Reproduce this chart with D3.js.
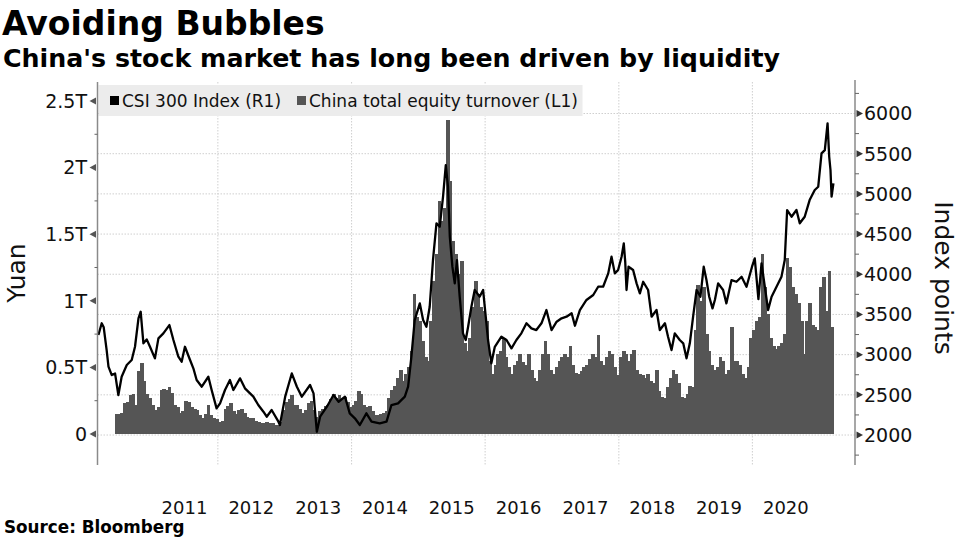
<!DOCTYPE html>
<html>
<head>
<meta charset="utf-8">
<script src="https://cdn.jsdelivr.net/npm/d3@7/dist/d3.min.js"></script>
<style>
  html, body { margin: 0; padding: 0; background: #fff; }
  svg { display: block; font-family: "DejaVu Sans", sans-serif; }
</style>
</head>
<body>
<svg id="chart" width="960" height="540"></svg>
<script>
// ---------------- DATA ----------------
const title = "Avoiding Bubbles";
const subtitle = "China's stock market has long been driven by liquidity";
const source = "Source: Bloomberg";
const legendLabels = ["CSI 300 Index (R1)", "China total equity turnover (L1)"];
const leftAxisTitle = "Yuan";
const rightAxisTitle = "Index points";
const yearLabels = [2011, 2012, 2013, 2014, 2015, 2016, 2017, 2018, 2019, 2020];
const gridYears = [2012, 2014, 2016, 2018, 2020];
const leftTicks = [0, 0.5, 1, 1.5, 2, 2.5];
const leftTickLabels = ["0", "0.5T", "1T", "1.5T", "2T", "2.5T"];
const rightTicks = [2000, 2500, 3000, 3500, 4000, 4500, 5000, 5500, 6000];

// CSI 300 index (right axis)
const csiDates = [
"2010-03-19","2010-04-06","2010-04-17","2010-05-03","2010-05-13","2010-05-31","2010-06-18","2010-07-06","2010-07-24","2010-08-21",
"2010-09-17","2010-10-05","2010-10-24","2010-11-05","2010-11-20","2010-12-08","2010-12-26","2011-01-22","2011-02-10","2011-03-09",
"2011-04-11","2011-05-03","2011-05-30","2011-06-17","2011-07-05","2011-08-02","2011-08-20","2011-09-07","2011-10-05","2011-11-10",
"2011-11-28","2011-12-25","2012-01-13","2012-02-09","2012-03-07","2012-03-26","2012-05-01","2012-05-28","2012-07-13","2012-08-09",
"2012-09-06","2012-09-24","2012-10-21","2012-11-27","2012-12-05","2013-01-03","2013-02-08","2013-03-08","2013-04-04","2013-05-19",
"2013-06-07","2013-06-25","2013-07-13","2013-08-19","2013-09-24","2013-10-22","2013-11-26","2013-12-22","2014-01-19","2014-02-15",
"2014-03-23","2014-04-20","2014-06-04","2014-07-11","2014-08-07","2014-09-12","2014-10-19","2014-11-06","2014-11-24","2014-12-12",
"2015-01-09","2015-01-27","2015-02-14","2015-03-04","2015-03-22","2015-04-10","2015-04-28","2015-05-16","2015-05-31","2015-06-12",
"2015-06-22","2015-07-06","2015-07-19","2015-07-31","2015-08-15","2015-09-02","2015-09-17","2015-09-30","2015-10-18","2015-11-05",
"2015-12-02","2015-12-21","2016-01-17","2016-02-04","2016-02-23","2016-03-30","2016-04-27","2016-05-24","2016-06-20","2016-07-17",
"2016-08-14","2016-09-10","2016-10-07","2016-11-04","2016-12-01","2016-12-29","2017-01-26","2017-02-22","2017-03-21","2017-04-18",
"2017-05-06","2017-06-02","2017-07-08","2017-08-14","2017-09-10","2017-10-07","2017-11-04","2017-11-22","2017-12-10","2017-12-28",
"2018-01-16","2018-01-28","2018-02-05","2018-02-12","2018-02-23","2018-03-20","2018-04-08","2018-04-26","2018-05-14","2018-06-10",
"2018-06-29","2018-07-26","2018-08-13","2018-09-10","2018-09-27","2018-10-16","2018-11-03","2018-11-30","2018-12-19","2019-01-06",
"2019-01-24","2019-02-11","2019-03-02","2019-03-23","2019-04-10","2019-04-25","2019-05-10","2019-05-28","2019-06-10","2019-06-28",
"2019-07-25","2019-08-12","2019-09-09","2019-10-06","2019-11-03","2019-11-30","2019-12-30","2020-01-14","2020-02-03","2020-02-20",
"2020-03-09","2020-03-27","2020-04-15","2020-05-12","2020-06-08","2020-06-26","2020-07-09","2020-08-02","2020-08-29","2020-09-16",
"2020-10-13","2020-11-09","2020-12-07","2020-12-26","2021-01-13","2021-01-31","2021-02-15","2021-02-24","2021-03-03","2021-03-09",
"2021-03-19"];
const csiValues = [
3244,3390,3340,3057,2850,2746,2766,2498,2725,2871,
2933,3098,3452,3534,3141,3190,3098,2954,3203,3265,
3368,3182,2974,2912,3098,2933,2830,2684,2601,2725,
2560,2332,2394,2560,2684,2560,2705,2581,2477,2373,
2290,2228,2311,2166,2124,2477,2766,2601,2477,2622,
2518,2041,2228,2352,2498,2414,2477,2270,2208,2124,
2270,2166,2145,2166,2373,2394,2477,2601,2974,3430,
3638,3430,3347,3596,4177,4634,4592,4965,5359,5089,
4467,4094,3887,4177,3721,3265,3182,3347,3596,3804,
3721,3804,3182,2892,3098,3223,3182,3078,3182,3265,
3390,3327,3306,3390,3555,3306,3410,3452,3472,3514,
3360,3555,3680,3742,3845,3845,4011,4218,4011,4053,
4218,4385,4150,3804,4094,4053,3887,3763,3907,3804,
3472,3555,3306,3390,3223,3057,3265,3182,3141,2954,
3141,3472,3804,3721,4094,3928,3721,3576,3680,3887,
3804,3638,3928,3907,3969,3845,4094,4198,3690,4136,
3845,3555,3721,3845,3969,4177,4799,4716,4799,4634,
4716,4923,5048,5089,5504,5545,5878,5462,5297,4965,
5131];

// China total equity turnover (left axis, trillion yuan), half-monthly periods
const turnoverStart = "2010-06-16";
const turnover2010 = [0.15,0.15,0.16,0.23,0.24,0.29,0.30,0.22,0.47,0.53,0.40,0.30,0.27];
const turnover2011 = [0.22,0.18,0.20,0.33,0.34,0.33,0.35,0.31,0.22,0.20,0.16,0.17,0.25,0.24,0.20,0.19,0.18,0.14,0.12,0.15,0.22,0.14,0.12,0.11];
const turnover2012 = [0.09,0.10,0.19,0.21,0.23,0.17,0.15,0.18,0.19,0.16,0.13,0.12,0.12,0.10,0.09,0.08,0.08,0.09,0.08,0.08,0.07,0.07,0.09,0.18];
const turnover2013 = [0.24,0.26,0.29,0.22,0.22,0.19,0.16,0.18,0.23,0.25,0.18,0.13,0.17,0.19,0.21,0.22,0.26,0.30,0.27,0.29,0.26,0.28,0.24,0.20];
const turnover2014 = [0.22,0.25,0.32,0.30,0.22,0.20,0.21,0.17,0.14,0.14,0.15,0.16,0.17,0.27,0.33,0.36,0.42,0.48,0.40,0.45,0.50,0.62,1.05,0.88];
const turnover2015 = [0.85,0.70,0.58,0.55,0.85,1.15,1.35,1.75,1.60,1.70,2.36,1.90,1.45,1.35,1.20,1.30,0.68,0.62,0.72,0.95,1.15,1.05,0.95,0.92];
const turnover2016 = [0.85,0.55,0.45,0.52,0.60,0.62,0.72,0.58,0.50,0.45,0.52,0.55,0.60,0.54,0.52,0.60,0.48,0.42,0.40,0.48,0.60,0.70,0.60,0.48];
const turnover2017 = [0.45,0.50,0.55,0.58,0.60,0.58,0.66,0.52,0.46,0.45,0.47,0.50,0.52,0.56,0.60,0.58,0.74,0.55,0.52,0.58,0.62,0.60,0.50,0.44];
const turnover2018 = [0.58,0.62,0.60,0.55,0.60,0.63,0.48,0.45,0.44,0.42,0.45,0.40,0.38,0.48,0.32,0.28,0.27,0.35,0.42,0.48,0.45,0.38,0.28,0.27];
const turnover2019 = [0.30,0.36,0.35,0.78,1.12,1.00,1.10,0.75,0.62,0.52,0.48,0.50,0.58,0.55,0.45,0.48,0.80,0.55,0.55,0.52,0.45,0.42,0.50,0.72];
const turnover2020 = [0.78,0.85,0.88,1.35,1.10,0.90,0.72,0.66,0.64,0.66,0.68,0.75,1.32,1.25,1.10,1.05,0.98,0.85,0.60,0.85,0.98,0.82,0.80,0.78];
const turnover2021 = [1.10,1.18,0.92,1.22,0.80];

// ---------------- CHART ----------------
const svg = d3.select("#chart");
const parse = d3.utcParse("%Y-%m-%d");

const plotLeft = 97.5, plotRight = 855, plotTop = 82, plotBottom = 465;

const x = d3.scaleUtc()
  .domain([Date.UTC(2010, 2, 14), Date.UTC(2021, 6, 15)])
  .range([plotLeft, plotRight]);
const yL = d3.scaleLinear().domain([-0.2327, 2.6426]).range([plotBottom, plotTop]);
const yR = d3.scaleLinear().domain([1627, 6392]).range([plotBottom, plotTop]);

// turnover periods (half months starting on the 1st and 16th)
const turnoverValues = [].concat(turnover2010, turnover2011, turnover2012, turnover2013, turnover2014,
  turnover2015, turnover2016, turnover2017, turnover2018, turnover2019, turnover2020, turnover2021);
function nextHalf(d) {
  const day = d.getUTCDate();
  if (day < 16) return new Date(Date.UTC(d.getUTCFullYear(), d.getUTCMonth(), 16));
  return new Date(Date.UTC(d.getUTCFullYear(), d.getUTCMonth() + 1, 1));
}
const turnover = [];
let cur = parse(turnoverStart);
turnoverValues.forEach(v => {
  const nxt = nextHalf(cur);
  turnover.push({ start: cur, end: nxt, value: v });
  cur = nxt;
});
const csi = csiDates.map((d, i) => ({ date: parse(d), value: csiValues[i] }));

// gridlines
const grid = svg.append("g");
grid.selectAll("line.h").data(rightTicks).enter().append("line")
  .attr("x1", plotLeft).attr("x2", plotRight)
  .attr("y1", d => yR(d)).attr("y2", d => yR(d))
  .attr("stroke", "#cfcfcf").attr("stroke-width", 1).attr("stroke-dasharray", "1.5,1.5");
grid.selectAll("line.v").data(gridYears).enter().append("line")
  .attr("x1", d => x(Date.UTC(d, 0, 1))).attr("x2", d => x(Date.UTC(d, 0, 1)))
  .attr("y1", plotTop).attr("y2", plotBottom)
  .attr("stroke", "#cfcfcf").attr("stroke-width", 1).attr("stroke-dasharray", "1.5,1.5");

// turnover bars
svg.append("g").attr("shape-rendering", "crispEdges")
  .selectAll("rect").data(turnover).enter().append("rect")
  .attr("x", d => x(d.start))
  .attr("width", d => x(d.end) - x(d.start) + 1)
  .attr("y", d => yL(d.value))
  .attr("height", d => yL(0) - yL(d.value))
  .attr("fill", "#555555");

// CSI 300 line
svg.append("path").datum(csi)
  .attr("fill", "none").attr("stroke", "#000").attr("stroke-width", 2.3)
  .attr("stroke-linejoin", "round")
  .attr("d", d3.line().x(d => x(d.date)).y(d => yR(d.value)));

// legend band
const lg = svg.append("g");
lg.append("rect").attr("x", plotLeft + 1).attr("y", 85).attr("width", 484).attr("height", 31).attr("fill", "#ececec");
lg.append("rect").attr("x", 110).attr("y", 96).attr("width", 9).attr("height", 9).attr("fill", "#000");
lg.append("text").attr("x", 122).attr("y", 107).attr("font-size", 17).attr("fill", "#111").text(legendLabels[0]);
lg.append("rect").attr("x", 297).attr("y", 96).attr("width", 9).attr("height", 9).attr("fill", "#555555");
lg.append("text").attr("x", 309).attr("y", 107).attr("font-size", 17).attr("fill", "#111").text(legendLabels[1]);

// left axis
const axL = svg.append("g");
axL.append("line").attr("x1", plotLeft).attr("x2", plotLeft).attr("y1", plotTop).attr("y2", plotBottom)
  .attr("stroke", "#8a8a8a").attr("stroke-width", 1.5);
const leftMinor = d3.range(-0.25, 2.75, 0.25).filter(v => leftTicks.indexOf(v) < 0 && yL(v) > plotTop && yL(v) < plotBottom);
axL.selectAll("line.m").data(leftMinor).enter().append("line")
  .attr("x1", plotLeft - 3).attr("x2", plotLeft).attr("y1", d => yL(d)).attr("y2", d => yL(d))
  .attr("stroke", "#666").attr("stroke-width", 1);
axL.selectAll("path.t").data(leftTicks).enter().append("path")
  .attr("d", d => `M${plotLeft - 8},${yL(d)} L${plotLeft - 1.5},${yL(d) - 3.5} L${plotLeft - 1.5},${yL(d) + 3.5} Z`)
  .attr("fill", "#555");
axL.selectAll("text").data(leftTicks).enter().append("text")
  .attr("x", 87).attr("y", d => yL(d)).attr("dy", "0.36em")
  .attr("text-anchor", "end").attr("font-size", 19).attr("fill", "#111")
  .text((d, i) => leftTickLabels[i]);

// right axis
const axR = svg.append("g");
axR.append("line").attr("x1", plotRight).attr("x2", plotRight).attr("y1", plotTop - 2).attr("y2", plotBottom)
  .attr("stroke", "#8a8a8a").attr("stroke-width", 1.5);
const rightMinor = d3.range(1750, 6500, 250).filter(v => rightTicks.indexOf(v) < 0 && yR(v) > plotTop - 2 && yR(v) < plotBottom);
axR.selectAll("line.m").data(rightMinor).enter().append("line")
  .attr("x1", plotRight).attr("x2", plotRight + 4).attr("y1", d => yR(d)).attr("y2", d => yR(d))
  .attr("stroke", "#666").attr("stroke-width", 1);
axR.selectAll("path.t").data(rightTicks).enter().append("path")
  .attr("d", d => `M${plotRight + 8},${yR(d)} L${plotRight + 1.5},${yR(d) - 3.5} L${plotRight + 1.5},${yR(d) + 3.5} Z`)
  .attr("fill", "#333");
axR.selectAll("text").data(rightTicks).enter().append("text")
  .attr("x", 864).attr("y", d => yR(d)).attr("dy", "0.36em")
  .attr("text-anchor", "start").attr("font-size", 19).attr("fill", "#111")
  .text(d => d);

// x labels (centred on each year)
svg.append("g").selectAll("text").data(yearLabels).enter().append("text")
  .attr("x", d => (x(Date.UTC(d, 0, 1)) + x(Date.UTC(d + 1, 0, 1))) / 2)
  .attr("y", 514).attr("text-anchor", "middle").attr("font-size", 18).attr("fill", "#111")
  .text(d => d);

// axis titles
svg.append("text").attr("transform", "translate(25,273) rotate(-90)")
  .attr("text-anchor", "middle").attr("font-size", 25).attr("fill", "#111").text(leftAxisTitle);
svg.append("text").attr("transform", "translate(935,278) rotate(90)")
  .attr("text-anchor", "middle").attr("font-size", 25).attr("fill", "#111").text(rightAxisTitle);

// titles
svg.append("text").attr("x", 2).attr("y", 35).attr("font-size", 33).attr("font-weight", "bold").attr("fill", "#000").text(title);
svg.append("text").attr("x", 3).attr("y", 67).attr("font-size", 25.3).attr("font-weight", "bold").attr("fill", "#000").text(subtitle);
svg.append("text").attr("x", 4).attr("y", 533).attr("font-size", 16.8).attr("font-weight", "bold").attr("fill", "#000").text(source);
</script>
</body>
</html>
